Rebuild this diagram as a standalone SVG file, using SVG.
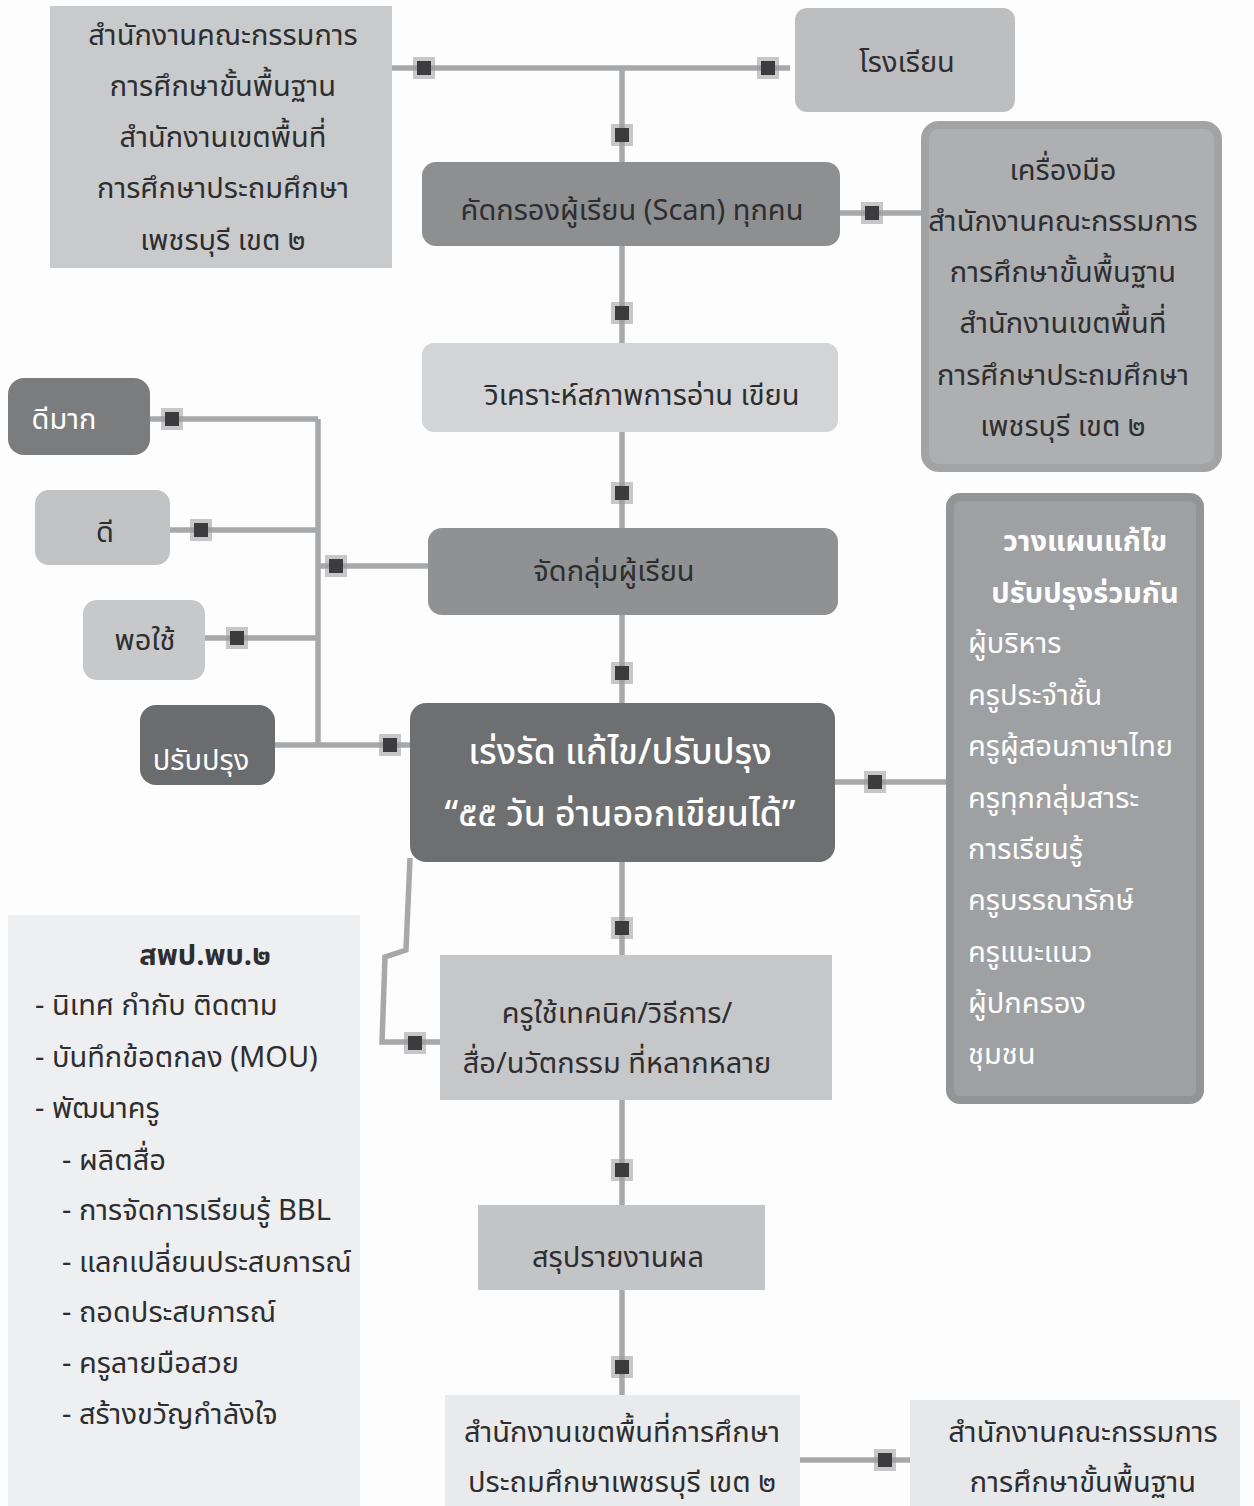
<svg xmlns="http://www.w3.org/2000/svg" xmlns:xlink="http://www.w3.org/1999/xlink" width="1254" height="1506" viewBox="0 0 1254 1506">
<defs>
<g id="sq">
<rect x="-11" y="-11" width="22" height="22" fill="#9a9b9d" opacity="0.55"/>
<rect x="-7" y="-7" width="14" height="14" fill="#3c3c3e"/>
</g>
<style>
text{font-family:"Noto Sans Thai","Noto Sans","DejaVu Sans",sans-serif;font-size:29px;fill:#2e2e30}
.c{text-anchor:middle}
.w{fill:#ffffff}
.b{font-weight:bold}
.big{font-size:35.5px;font-weight:500}
.ln{fill:none;stroke:#a7a8aa;stroke-width:5.5}
</style>
</defs>
<rect width="1254" height="1506" fill="#fdfdfd"/>

<g id="connectors">
<path class="ln" d="M392 68 H790"/>
<path class="ln" d="M622 68 V162"/>
<path class="ln" d="M622 246 V343"/>
<path class="ln" d="M622 432 V528"/>
<path class="ln" d="M622 615 V703"/>
<path class="ln" d="M622 862 V955"/>
<path class="ln" d="M622 1100 V1205"/>
<path class="ln" d="M622 1290 V1395"/>
<path class="ln" d="M840 213 H925"/>
<path class="ln" d="M835 782 H950"/>
<path class="ln" d="M800 1460 H910"/>
<path class="ln" d="M150 419 H318"/>
<path class="ln" d="M170 530 H318"/>
<path class="ln" d="M205 638 H318"/>
<path class="ln" d="M318 419 V745"/>
<path class="ln" d="M318 566 H428"/>
<path class="ln" d="M275 745 H410"/>
<path class="ln" d="M410 858 L406 950 L385 957 L382 1042 H440"/>
<use xlink:href="#sq" x="424" y="68"/>
<use xlink:href="#sq" x="768" y="68"/>
<use xlink:href="#sq" x="622" y="135"/>
<use xlink:href="#sq" x="872" y="213"/>
<use xlink:href="#sq" x="622" y="313"/>
<use xlink:href="#sq" x="622" y="493"/>
<use xlink:href="#sq" x="622" y="673"/>
<use xlink:href="#sq" x="172" y="419"/>
<use xlink:href="#sq" x="201" y="530"/>
<use xlink:href="#sq" x="237" y="638"/>
<use xlink:href="#sq" x="336" y="566"/>
<use xlink:href="#sq" x="390" y="745"/>
<use xlink:href="#sq" x="875" y="782"/>
<use xlink:href="#sq" x="622" y="928"/>
<use xlink:href="#sq" x="415" y="1043"/>
<use xlink:href="#sq" x="622" y="1170"/>
<use xlink:href="#sq" x="622" y="1367"/>
<use xlink:href="#sq" x="885" y="1460"/>
</g>

<g id="n-obec-top">
<rect x="50" y="6" width="342" height="262" fill="#c9cacc"/>
<text class="c" x="223" y="45">สำนักงานคณะกรรมการ</text>
<text class="c" x="223" y="96">การศึกษาขั้นพื้นฐาน</text>
<text class="c" x="223" y="147">สำนักงานเขตพื้นที่</text>
<text class="c" x="223" y="198">การศึกษาประถมศึกษา</text>
<text class="c" x="223" y="250">เพชรบุรี เขต ๒</text>
</g>

<g id="n-school">
<rect x="795" y="8" width="220" height="104" rx="12" fill="#bdbec0"/>
<text class="c" x="907" y="72">โรงเรียน</text>
</g>

<g id="n-scan">
<rect x="422" y="162" width="418" height="84" rx="14" fill="#8e8f91"/>
<text class="c" x="632" y="220">คัดกรองผู้เรียน (Scan) ทุกคน</text>
</g>

<g id="n-tools">
<rect x="925" y="125" width="293" height="343" rx="14" fill="#aeafb1" stroke="#a2a3a5" stroke-width="8"/>
<text class="c" x="1063" y="180">เครื่องมือ</text>
<text class="c" x="1063" y="231">สำนักงานคณะกรรมการ</text>
<text class="c" x="1063" y="282">การศึกษาขั้นพื้นฐาน</text>
<text class="c" x="1063" y="333">สำนักงานเขตพื้นที่</text>
<text class="c" x="1063" y="385">การศึกษาประถมศึกษา</text>
<text class="c" x="1063" y="436">เพชรบุรี เขต ๒</text>
</g>

<g id="n-analyze">
<rect x="422" y="343" width="416" height="89" rx="12" fill="#d3d4d5"/>
<text class="c" x="642" y="405">วิเคราะห์สภาพการอ่าน เขียน</text>
</g>

<g id="n-group">
<rect x="428" y="528" width="410" height="87" rx="14" fill="#909193"/>
<text class="c" x="614" y="581">จัดกลุ่มผู้เรียน</text>
</g>

<g id="n-verygood">
<rect x="8" y="378" width="142" height="77" rx="16" fill="#7b7c7e"/>
<text class="c w" x="64" y="429">ดีมาก</text>
</g>
<g id="n-good">
<rect x="35" y="490" width="135" height="75" rx="14" fill="#c2c3c5"/>
<text class="c" x="105" y="542">ดี</text>
</g>
<g id="n-fair">
<rect x="83" y="600" width="122" height="80" rx="14" fill="#c7c8ca"/>
<text class="c" x="145" y="650">พอใช้</text>
</g>
<g id="n-improve">
<rect x="140" y="705" width="135" height="80" rx="16" fill="#6b6c6e"/>
<text class="c w" x="201" y="770">ปรับปรุง</text>
</g>

<g id="n-main">
<rect x="410" y="703" width="425" height="159" rx="16" fill="#6e6f71"/>
<text class="c w big" x="620" y="764">เร่งรัด แก้ไข/ปรับปรุง</text>
<text class="c w big" x="620" y="826">“๕๕ วัน อ่านออกเขียนได้”</text>
</g>

<g id="n-plan">
<rect x="950" y="497" width="250" height="603" rx="10" fill="#9fa0a2" stroke="#939496" stroke-width="8"/>
<text class="c w b" x="1085" y="551">วางแผนแก้ไข</text>
<text class="c w b" x="1085" y="603">ปรับปรุงร่วมกัน</text>
<text class="w" x="968" y="653">ผู้บริหาร</text>
<text class="w" x="968" y="705">ครูประจำชั้น</text>
<text class="w" x="968" y="756">ครูผู้สอนภาษาไทย</text>
<text class="w" x="968" y="808">ครูทุกกลุ่มสาระ</text>
<text class="w" x="968" y="859">การเรียนรู้</text>
<text class="w" x="968" y="910">ครูบรรณารักษ์</text>
<text class="w" x="968" y="962">ครูแนะแนว</text>
<text class="w" x="968" y="1013">ผู้ปกครอง</text>
<text class="w" x="968" y="1064">ชุมชน</text>
</g>

<g id="n-spp">
<rect x="8" y="915" width="352" height="591" fill="#eeeff0"/>
<text class="c b" x="205" y="965">สพป.พบ.๒</text>
<text x="35" y="1015">- นิเทศ กำกับ ติดตาม</text>
<text x="35" y="1067">- บันทึกข้อตกลง (MOU)</text>
<text x="35" y="1118">- พัฒนาครู</text>
<text x="62" y="1170">- ผลิตสื่อ</text>
<text x="62" y="1220">- การจัดการเรียนรู้ BBL</text>
<text x="62" y="1272">- แลกเปลี่ยนประสบการณ์</text>
<text x="62" y="1322">- ถอดประสบการณ์</text>
<text x="62" y="1373">- ครูลายมือสวย</text>
<text x="62" y="1424">- สร้างขวัญกำลังใจ</text>
</g>

<g id="n-teacher">
<rect x="440" y="955" width="392" height="145" fill="#c6c7c9"/>
<text class="c" x="617" y="1023">ครูใช้เทคนิค/วิธีการ/</text>
<text class="c" x="617" y="1073">สื่อ/นวัตกรรม ที่หลากหลาย</text>
</g>

<g id="n-report">
<rect x="478" y="1205" width="287" height="85" fill="#c3c4c6"/>
<text class="c" x="618" y="1267">สรุปรายงานผล</text>
</g>

<g id="n-area">
<rect x="445" y="1395" width="355" height="111" fill="#e9eaeb"/>
<text class="c" x="622" y="1442">สำนักงานเขตพื้นที่การศึกษา</text>
<text class="c" x="622" y="1492">ประถมศึกษาเพชรบุรี เขต ๒</text>
</g>

<g id="n-obec-bottom">
<rect x="910" y="1400" width="330" height="106" fill="#e7e8e9"/>
<text class="c" x="1083" y="1442">สำนักงานคณะกรรมการ</text>
<text class="c" x="1083" y="1492">การศึกษาขั้นพื้นฐาน</text>
</g>
</svg>
